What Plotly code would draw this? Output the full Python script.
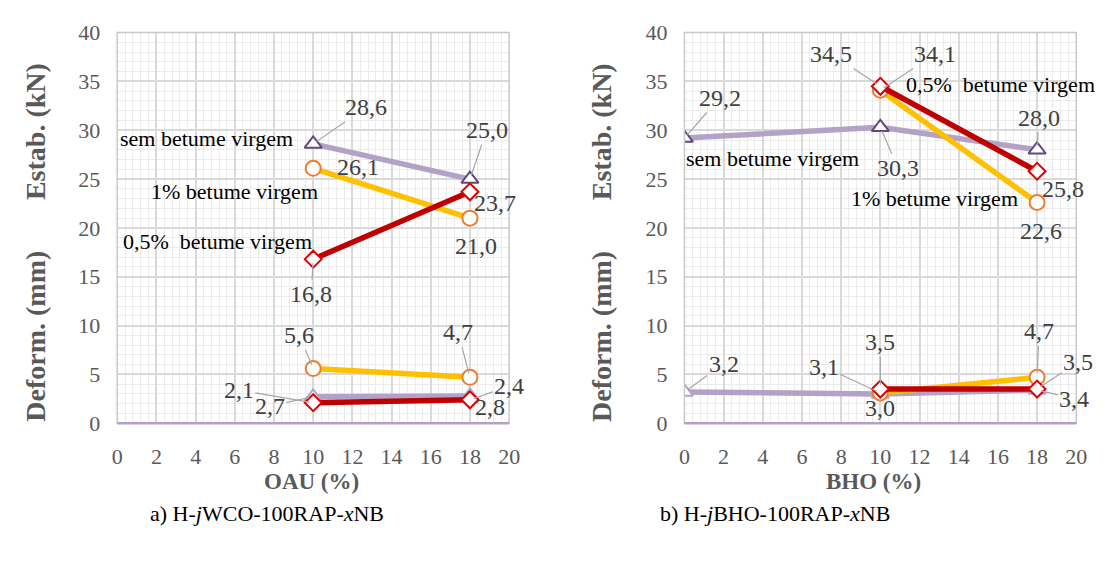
import plotly.graph_objects as go

# ---------------- data ----------------
series_names = ["sem betume virgem", "1% betume virgem", "0,5%  betume virgem"]

# panel a) OAU
oau_x_sem = [10, 18]
oau_estab_sem = [28.6, 25.0]
oau_deform_sem = [2.7, 2.8]
oau_x_1 = [10, 18]
oau_estab_1 = [26.1, 21.0]
oau_deform_1 = [5.6, 4.7]
oau_x_05 = [10, 18]
oau_estab_05 = [16.8, 23.7]
oau_deform_05 = [2.1, 2.4]

# panel b) BHO
bho_x_sem = [0, 10, 18]
bho_estab_sem = [29.2, 30.3, 28.0]
bho_deform_sem = [3.2, 3.0, 3.4]
bho_x_1 = [10, 18]
bho_estab_1 = [34.1, 22.6]
bho_deform_1 = [3.1, 4.7]
bho_x_05 = [10, 18]
bho_estab_05 = [34.5, 25.8]
bho_deform_05 = [3.5, 3.5]

x_ticks = list(range(0, 21, 2))
y_ticks = list(range(0, 41, 5))

# ---------------- styles ----------------
FONT = "Liberation Serif, Times New Roman, Tinos, DejaVu Serif, serif"
GRAY_TXT = "#595959"
LAB_TXT = "#404040"
C_SEM = "#b3a2c7"
C_SEM_MK = "#604a7b"
C_1 = "#ffc000"
C_1_MK = "#ed7d31"
C_05 = "#c00000"
C_05_MK = "#e00000"
LEADER = "#a6a6a6"

W, H = 1105, 573

def px_x(p):
    return p / W

def px_y(p):
    return 1 - p / H

fig = go.Figure()

def add_series(xs, ys, color, mcolor, symbol, msize, xa, ya):
    fig.add_trace(go.Scatter(
        x=xs, y=ys, mode="lines+markers", xaxis=xa, yaxis=ya,
        line=dict(color=color, width=5.5),
        marker=dict(symbol=symbol, size=msize, color="white",
                    line=dict(color=mcolor, width=2)),
        showlegend=False, hoverinfo="skip"))

# panel a
add_series(oau_x_sem, oau_estab_sem, C_SEM, C_SEM_MK, "triangle-up", 15, "x", "y")
add_series(oau_x_sem, oau_deform_sem, C_SEM, C_SEM, "triangle-up", 15, "x", "y")
add_series(oau_x_1, oau_estab_1, C_1, C_1_MK, "circle", 15, "x", "y")
add_series(oau_x_1, oau_deform_1, C_1, C_1_MK, "circle", 15, "x", "y")
add_series(oau_x_05, oau_estab_05, C_05, C_05_MK, "diamond", 13, "x", "y")
add_series(oau_x_05, oau_deform_05, C_05, C_05_MK, "diamond", 13, "x", "y")
# panel b
add_series(bho_x_sem, bho_estab_sem, C_SEM, C_SEM_MK, "triangle-up", 15, "x2", "y2")
add_series(bho_x_sem, bho_deform_sem, C_SEM, C_SEM, "triangle-up", 15, "x2", "y2")
add_series(bho_x_1, bho_estab_1, C_1, C_1_MK, "circle", 15, "x2", "y2")
add_series(bho_x_1, bho_deform_1, C_1, C_1_MK, "circle", 15, "x2", "y2")
add_series(bho_x_05, bho_estab_05, C_05, C_05_MK, "diamond", 13, "x2", "y2")
add_series(bho_x_05, bho_deform_05, C_05, C_05_MK, "diamond", 13, "x2", "y2")

def fmt(v):
    return f"{v:.1f}".replace(".", ",")

annotations = []

def label(xs, ys, i, dx, dy, leader, xa, ya):
    x0, y0 = xs[i], ys[i]
    if leader:
        annotations.append(dict(
            x=x0, y=y0, xref=xa, yref=ya, ax=x0 + dx, ay=y0 + dy,
            axref=xa, ayref=ya, text=fmt(y0), showarrow=True,
            arrowhead=0, arrowwidth=1.2, arrowcolor=LEADER, standoff=4,
            font=dict(family=FONT, size=24, color=LAB_TXT)))
    else:
        annotations.append(dict(
            x=x0 + dx, y=y0 + dy, xref=xa, yref=ya, text=fmt(y0),
            showarrow=False, font=dict(family=FONT, size=24, color=LAB_TXT)))

# panel a labels (offsets in data units: dx, dy, leader)
label(oau_x_sem, oau_estab_sem, 0, 2.7, 3.75, True, "x", "y")
label(oau_x_sem, oau_estab_sem, 1, 0.85, 5.0, True, "x", "y")
label(oau_x_1, oau_estab_1, 0, 2.3, 0.1, False, "x", "y")
label(oau_x_1, oau_estab_1, 1, 0.3, -2.9, False, "x", "y")
label(oau_x_05, oau_estab_05, 0, -0.1, -3.6, True, "x", "y")
label(oau_x_05, oau_estab_05, 1, 1.3, -1.2, False, "x", "y")
label(oau_x_1, oau_deform_1, 0, -0.7, 3.4, True, "x", "y")
label(oau_x_1, oau_deform_1, 1, -0.6, 4.6, True, "x", "y")
label(oau_x_05, oau_deform_05, 0, -3.8, 1.3, True, "x", "y")
label(oau_x_05, oau_deform_05, 1, 2.0, 1.4, True, "x", "y")
label(oau_x_sem, oau_deform_sem, 0, -2.2, -0.9, True, "x", "y")
label(oau_x_sem, oau_deform_sem, 1, 1.0, -1.1, False, "x", "y")

# panel b labels
label(bho_x_05, bho_estab_05, 0, -2.5, 3.3, True, "x2", "y2")
label(bho_x_1, bho_estab_1, 0, 2.8, 3.7, True, "x2", "y2")
label(bho_x_sem, bho_estab_sem, 0, 1.8, 4.1, True, "x2", "y2")
label(bho_x_sem, bho_estab_sem, 1, 0.9, -4.2, True, "x2", "y2")
label(bho_x_sem, bho_estab_sem, 2, 0.1, 3.3, True, "x2", "y2")
label(bho_x_05, bho_estab_05, 1, 1.3, -1.8, False, "x2", "y2")
label(bho_x_1, bho_estab_1, 1, 0.2, -2.9, False, "x2", "y2")
label(bho_x_1, bho_deform_1, 1, 0.1, 4.7, True, "x2", "y2")
label(bho_x_05, bho_deform_05, 0, 0.0, 4.8, True, "x2", "y2")
label(bho_x_1, bho_deform_1, 0, -2.9, 2.7, True, "x2", "y2")
label(bho_x_sem, bho_deform_sem, 0, 2.0, 2.9, True, "x2", "y2")
label(bho_x_sem, bho_deform_sem, 1, 0.0, -1.4, False, "x2", "y2")
label(bho_x_05, bho_deform_05, 1, 2.1, 2.8, True, "x2", "y2")
label(bho_x_sem, bho_deform_sem, 2, 1.9, -0.9, True, "x2", "y2")

# series name labels
def series_label(text, x, y, xa, ya):
    annotations.append(dict(x=x, y=y, xref=xa, yref=ya, text=text, showarrow=False,
                            xanchor="left", yanchor="middle",
                            font=dict(family=FONT, size=22, color="black")))

series_label(series_names[0], 0.05, 29.2, "x", "y")
series_label(series_names[1], 1.6, 23.7, "x", "y")
series_label(series_names[2], 0.2, 18.6, "x", "y")
series_label(series_names[0], 0.0, 27.1, "x2", "y2")
series_label(series_names[1], 8.4, 23.0, "x2", "y2")
series_label(series_names[2], 11.2, 34.7, "x2", "y2")

def paper_text(text, xc, yc, size, color, angle=0):
    annotations.append(dict(x=px_x(xc), y=px_y(yc), xref="paper", yref="paper",
                            xanchor="center", yanchor="middle", text=text,
                            textangle=angle, showarrow=False,
                            font=dict(family=FONT, size=size, color=color)))

# axis titles
for xc in (30, 605):
    paper_text("<b>Estab. (kN)</b>", xc, 125, 28, GRAY_TXT, -90)
    paper_text("<b>Deform. (mm)</b>", xc, 339, 28, GRAY_TXT, -90)
paper_text("<b>OAU (%)</b>", 310, 491, 23, GRAY_TXT)
paper_text("<b>BHO (%)</b>", 881, 491, 23, GRAY_TXT)
paper_text("a) H-<i>j</i>WCO-100RAP-<i>x</i>NB", 265, 524, 22, "black")
paper_text("b) H-<i>j</i>BHO-100RAP-<i>x</i>NB", 781, 524, 22, "black")

y_dom = [px_y(430), px_y(21.5)]
xa_common = dict(range=[0, 20], tickvals=x_ticks, showgrid=True, gridcolor="#d9d9d9",
                 gridwidth=1.5, zeroline=False, showline=False, ticks="",
                 ticklabelstandoff=18,
                 tickfont=dict(family=FONT, size=22, color=GRAY_TXT),
                 minor=dict(dtick=0.4, showgrid=True, gridcolor="#ececec", gridwidth=1.3))
ya_common = dict(range=[0, 40], tickvals=y_ticks, showgrid=True, gridcolor="#d9d9d9",
                 gridwidth=1.5, zeroline=False, showline=False, ticks="",
                 ticklabelstandoff=16, domain=y_dom,
                 tickfont=dict(family=FONT, size=22, color=GRAY_TXT),
                 minor=dict(dtick=1, showgrid=True, gridcolor="#ececec", gridwidth=1.3))

shapes = []
for xr, yr in (("x", "y"), ("x2", "y2")):
    shapes.append(dict(type="rect", xref=f"{xr} domain", yref=f"{yr} domain",
                       x0=0, x1=1, y0=0, y1=1, line=dict(color="#c8c8c8", width=1.5),
                       layer="above"))
    shapes.append(dict(type="line", xref=f"{xr} domain", yref=f"{yr} domain",
                       x0=0, x1=1, y0=0, y1=0, line=dict(color=C_SEM, width=2.5),
                       layer="above"))

fig.update_layout(
    width=W, height=H, margin=dict(l=0, r=0, t=0, b=0),
    paper_bgcolor="white", plot_bgcolor="white",
    xaxis=dict(domain=[px_x(113), px_x(511)], anchor="y", **xa_common),
    yaxis=dict(anchor="x", **ya_common),
    xaxis2=dict(domain=[px_x(689), px_x(1087)], anchor="y2", **xa_common),
    yaxis2=dict(anchor="x2", **ya_common),
    annotations=annotations, shapes=shapes, showlegend=False,
)

fig.write_html("out.html")
